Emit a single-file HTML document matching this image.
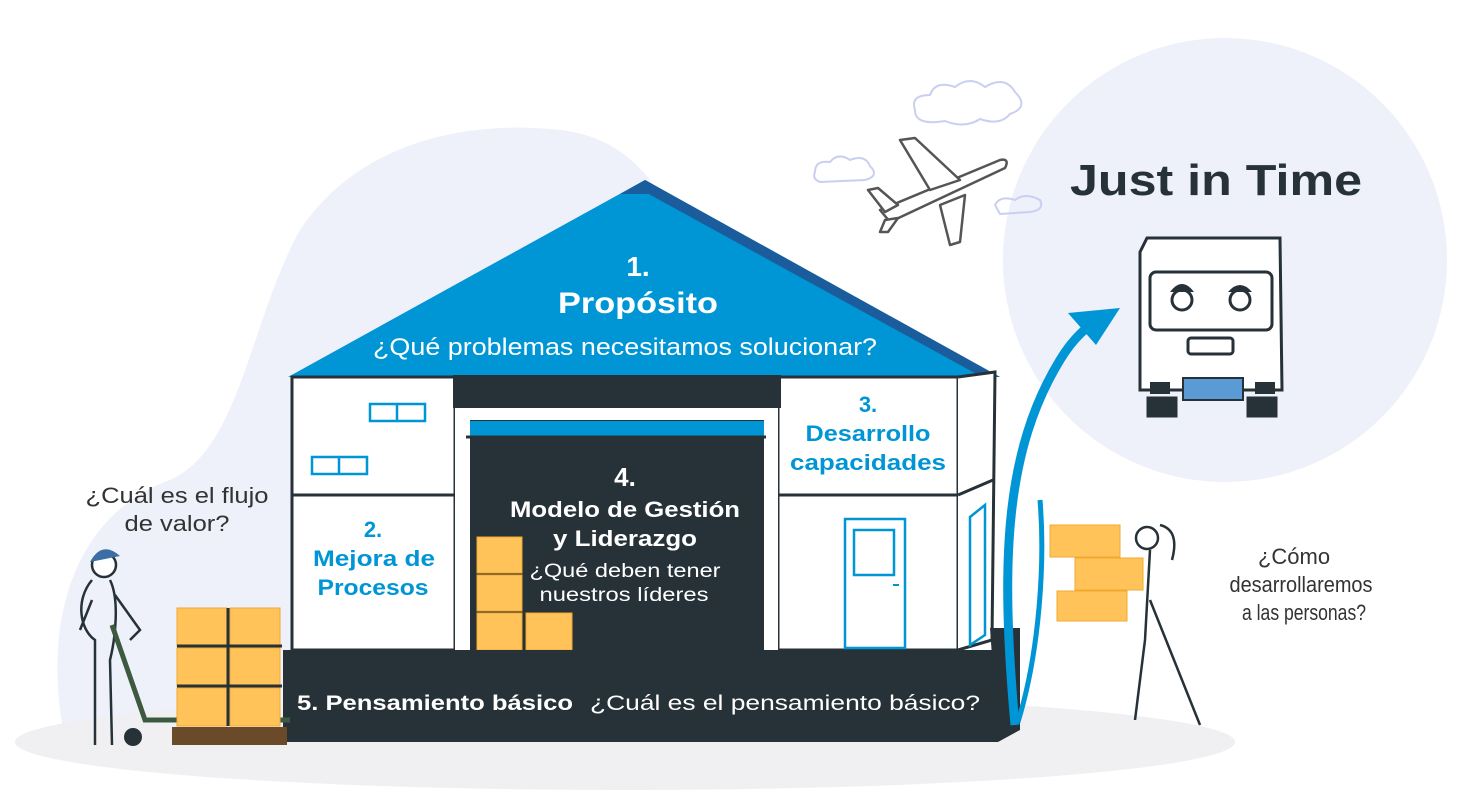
<!DOCTYPE html>
<html><head><meta charset="utf-8"><style>
body{margin:0;background:#fff;}
svg{display:block;font-family:"Liberation Sans",sans-serif;}
</style></head><body>
<svg width="1481" height="799" viewBox="0 0 1481 799" xmlns="http://www.w3.org/2000/svg">
<path d="M70 760 C40 650 60 520 170 480 C240 450 250 320 300 230 C360 140 470 120 560 130 C650 140 680 220 700 300 L720 760 Z" fill="#eef0fa"/>
<circle cx="1225" cy="260" r="222" fill="#eef0fa"/>
<ellipse cx="625" cy="742" rx="610" ry="48" fill="#f0f0f2"/>
<path d="M915 110 q-5-15 15-15 q5-15 25-8 q15-12 30 0 q20-12 30 5 q15 15-5 22 q-10 12-30 5 q-15 10-35 2 q-30 5-30-11z" fill="none" stroke="#c9cff0" stroke-width="2"/>
<path d="M815 172 q0-12 15-10 q8-10 20-2 q15-6 20 6 q10 10-5 14 l-45 2 q-8-3-5-10z" fill="none" stroke="#c9cff0" stroke-width="2"/>
<path d="M995 205 q5-10 20-5 q10-8 25 0 q5 10-10 12 l-30 2z" fill="none" stroke="#c9cff0" stroke-width="2"/>
<g fill="#fff" stroke="#555" stroke-width="2.5" stroke-linejoin="round">
<path d="M880 210 L1000 160 Q1010 158 1005 168 L890 222 Z"/>
<path d="M930 190 L900 140 L915 138 L960 180 Z"/>
<path d="M940 205 L950 245 L960 242 L965 195 Z"/>
<path d="M885 212 L868 190 L878 188 L898 205 Z"/>
<path d="M885 220 L880 232 L888 232 L898 218 Z"/>
</g>
<polygon points="288,377 645,180 1000,377" fill="#0095d5"/>
<polygon points="645,180 1000,377 982,377 645,192" fill="#1b5d9c"/>
<polygon points="645,180 620,194 670,194" fill="#1b5d9c"/>
<g fill="#fff" text-anchor="middle" font-weight="bold">
<text x="638" y="276" font-size="28">1.</text>
<text x="638" y="313" font-size="30" textLength="160" lengthAdjust="spacingAndGlyphs">Propósito</text>
</g>
<text x="625" y="355" font-size="24" fill="#fff" text-anchor="middle" textLength="504" lengthAdjust="spacingAndGlyphs">¿Qué problemas necesitamos solucionar?</text>
<g stroke="#263238" stroke-width="3" fill="#fff">
<rect x="292" y="377" width="163" height="273"/>
<rect x="778" y="377" width="180" height="273"/>
<path d="M958 377 L995 372 L992 640 L958 650" />
<line x1="292" y1="495" x2="455" y2="495"/>
<line x1="778" y1="495" x2="958" y2="495"/>
<line x1="958" y1="495" x2="993" y2="480"/>
</g>
<g fill="none" stroke="#0095d5" stroke-width="2.5">
<rect x="370" y="404" width="55" height="17"/><line x1="397" y1="404" x2="397" y2="421"/>
<rect x="312" y="457" width="55" height="17"/><line x1="339" y1="457" x2="339" y2="474"/>
<rect x="845" y="519" width="60" height="129"/><rect x="854" y="530" width="40" height="45"/>
<path d="M970 517 L985 505 L985 635 L970 645 Z"/>
</g>
<line x1="893" y1="585" x2="899" y2="585" stroke="#0095d5" stroke-width="2"/>
<rect x="453" y="375" width="328" height="33" fill="#263238"/>
<rect x="455" y="408" width="323" height="242" fill="#fff"/>
<rect x="470" y="420" width="294" height="230" fill="#263238"/>
<rect x="470" y="421" width="294" height="16" fill="#0095d5"/>
<line x1="466" y1="437" x2="766" y2="437" stroke="#263238" stroke-width="3"/>
<g font-size="22" font-weight="bold" fill="#0095d5" text-anchor="middle">
<text x="373" y="537">2.</text>
<text x="374" y="566" textLength="122" lengthAdjust="spacingAndGlyphs">Mejora de</text>
<text x="373" y="595" textLength="111" lengthAdjust="spacingAndGlyphs">Procesos</text>
<text x="868" y="412">3.</text>
<text x="868" y="441" textLength="125" lengthAdjust="spacingAndGlyphs">Desarrollo</text>
<text x="868" y="470" textLength="156" lengthAdjust="spacingAndGlyphs">capacidades</text>
</g>
<g fill="#fff" text-anchor="middle">
<text x="625" y="486" font-size="26" font-weight="bold">4.</text>
<text x="625" y="517" font-size="22" font-weight="bold" textLength="230" lengthAdjust="spacingAndGlyphs">Modelo de Gestión</text>
<text x="625" y="546" font-size="22" font-weight="bold" textLength="144" lengthAdjust="spacingAndGlyphs">y Liderazgo</text>
<text x="625" y="577" font-size="19" textLength="191" lengthAdjust="spacingAndGlyphs">¿Qué deben tener</text>
<text x="624" y="601" font-size="19" textLength="169" lengthAdjust="spacingAndGlyphs">nuestros líderes</text>
</g>
<g fill="#ffc35a" stroke="#f0a830" stroke-width="1">
<rect x="477" y="537" width="45" height="36"/><rect x="477" y="575" width="45" height="36"/><rect x="477" y="613" width="45" height="37"/><rect x="526" y="613" width="46" height="37"/>
</g>
<polygon points="990,628 1020,628 1020,730 998,742" fill="#263238"/>
<rect x="283" y="650" width="715" height="92" fill="#263238"/>
<text x="297" y="710" font-size="21" font-weight="bold" fill="#fff" textLength="276" lengthAdjust="spacingAndGlyphs">5. Pensamiento básico</text>
<text x="590" y="710" font-size="21" fill="#fff" textLength="390" lengthAdjust="spacingAndGlyphs">¿Cuál es el pensamiento básico?</text>
<path d="M1015 725 C1000 560 1005 450 1060 360 C1075 335 1090 325 1100 318" fill="none" stroke="#0095d5" stroke-width="9"/>
<path d="M1018 722 C1040 650 1045 560 1040 500" fill="none" stroke="#0095d5" stroke-width="5"/>
<polygon points="1068,313 1120,308 1096,345" fill="#0095d5"/>
<text x="1216" y="195" font-size="44" font-weight="bold" fill="#263238" text-anchor="middle" textLength="292" lengthAdjust="spacingAndGlyphs">Just in Time</text>
<g stroke="#263238" stroke-width="3" fill="#fff">
<path d="M1140 252 L1147 238 L1280 238 L1282 390 L1140 390 Z"/>
<rect x="1150" y="272" width="122" height="58" rx="6"/>
<rect x="1188" y="338" width="45" height="16" rx="3"/>
<rect x="1148" y="398" width="28" height="18" fill="#263238"/>
<rect x="1248" y="398" width="28" height="18" fill="#263238"/>
<circle cx="1182" cy="300" r="10"/><circle cx="1240" cy="300" r="10"/>
</g>
<rect x="1183" y="378" width="60" height="22" fill="#5b9bd5" stroke="#263238" stroke-width="2"/>
<rect x="1150" y="382" width="20" height="12" fill="#263238"/><rect x="1255" y="382" width="20" height="12" fill="#263238"/>
<path d="M1228 292 q12-14 24 0z" fill="#263238"/>
<path d="M1170 292 q12-16 24 0" fill="#263238"/>
<g font-size="22" fill="#333" text-anchor="middle">
<text x="177" y="503" textLength="183" lengthAdjust="spacingAndGlyphs">¿Cuál es el flujo</text>
<text x="177" y="531" textLength="105" lengthAdjust="spacingAndGlyphs">de valor?</text>
<text x="1294" y="564">¿Cómo</text>
<text x="1301" y="592" textLength="143" lengthAdjust="spacingAndGlyphs">desarrollaremos</text>
<text x="1304" y="620" textLength="124" lengthAdjust="spacingAndGlyphs">a las personas?</text>
</g>
<g fill="none" stroke="#263238" stroke-width="2.5">
<circle cx="104" cy="565" r="12" fill="#fff"/>
<path d="M92 580 C75 600 80 630 95 640 L95 745 M110 580 C120 600 115 640 110 660 L112 745 M92 600 L80 630 M115 595 L140 630 L130 640"/>
</g>
<path d="M90 562 q12-22 30-6 l-30 6z" fill="#3a6ea5"/>
<g stroke="#3d5a40" stroke-width="5" fill="none"><path d="M112 625 L145 720 L290 720"/></g>
<circle cx="133" cy="737" r="9" fill="#263238"/>
<g fill="#ffc35a" stroke="#f0a830">
<rect x="177" y="608" width="50" height="38"/><rect x="230" y="608" width="50" height="38"/>
<rect x="177" y="648" width="50" height="38"/><rect x="230" y="648" width="50" height="38"/>
<rect x="177" y="688" width="50" height="38"/><rect x="230" y="688" width="50" height="38"/>
</g>
<g stroke="#263238" stroke-width="3"><line x1="177" y1="646" x2="282" y2="646"/><line x1="177" y1="686" x2="282" y2="686"/><line x1="228" y1="608" x2="228" y2="726"/></g>
<rect x="172" y="727" width="115" height="18" fill="#6b4a2a"/>
<g fill="#ffc35a" stroke="#f0a830">
<rect x="1050" y="525" width="70" height="32"/><rect x="1075" y="558" width="68" height="32"/><rect x="1057" y="591" width="70" height="30"/>
</g>
<g fill="none" stroke="#263238" stroke-width="2.5">
<circle cx="1147" cy="538" r="11" fill="#fff"/>
<path d="M1150 550 L1145 640 L1135 720 M1150 600 L1170 650 L1200 725 M1160 525 q20 5 12 35"/>
</g>
</svg>
</body></html>
